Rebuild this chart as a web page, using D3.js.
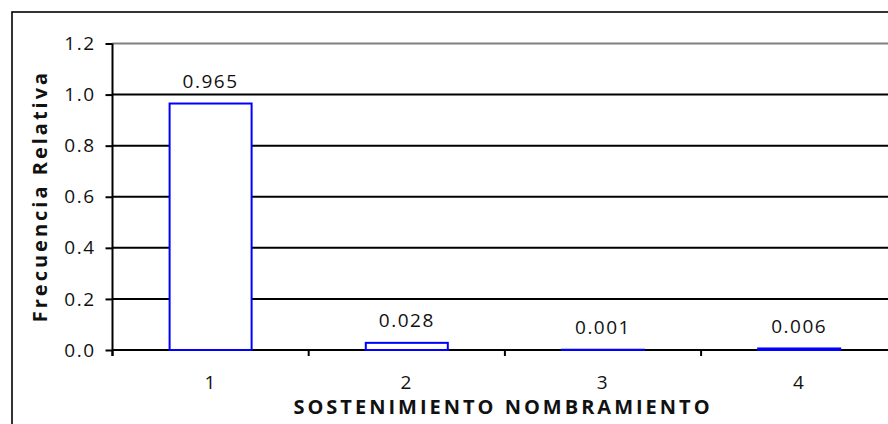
<!DOCTYPE html>
<html>
<head>
<meta charset="utf-8">
<script src="https://cdn.jsdelivr.net/npm/d3@7"></script>
<style>
  html, body { margin: 0; padding: 0; background: #fff; overflow: hidden; }
  text { font-family: "Open Sans", "DejaVu Sans", sans-serif; fill: #111; }
</style>
</head>
<body>
<svg id="chart" width="888" height="424"></svg>
<script>
const categories = ["1", "2", "3", "4"];
const values = [0.965, 0.028, 0.001, 0.006];
const valueLabels = ["0.965", "0.028", "0.001", "0.006"];
const yTicks = [0, 0.2, 0.4, 0.6, 0.8, 1.0, 1.2];
const xTitle = "SOSTENIMIENTO NOMBRAMIENTO";
const yTitle = "Frecuencia Relativa";

const svg = d3.select("#chart");
const W = 888, H = 424;
const pLeft = 112.5, pRight = 897.3, pTop = 43.5, pBottom = 350;
const numFont = "19px", numSpacing = "1.5px";
const titleFont = "20px", titleSpacing = "3px";

// outer chart border
svg.append("rect")
  .attr("x", 12).attr("y", 12)
  .attr("width", W + 20).attr("height", H + 20)
  .attr("fill", "#fff").attr("stroke", "#000").attr("stroke-width", 1.6);

const x = d3.scaleBand().domain(categories).range([pLeft, pRight]).padding(0);
const y = d3.scaleLinear().domain([0, 1.2]).range([pBottom, pTop]);

// gridlines
svg.append("g").selectAll("line")
  .data(yTicks.filter(d => d > 0))
  .join("line")
  .attr("x1", pLeft).attr("x2", pRight)
  .attr("y1", d => y(d)).attr("y2", d => y(d))
  .attr("stroke", d => d === 1.2 ? "#808080" : "#000")
  .attr("stroke-width", 2);

// y axis
const yAxis = d3.axisLeft(y).tickValues(yTicks).tickFormat(d3.format(".1f"))
  .tickSize(7).tickPadding(10);
const gy = svg.append("g").attr("transform", `translate(${pLeft},0)`).call(yAxis);
gy.select(".domain").attr("stroke", "#000").attr("stroke-width", 2)
  .attr("d", `M0,${pTop}V${pBottom + 6}`);
gy.selectAll(".tick line").attr("stroke", "#000").attr("stroke-width", 2);
gy.selectAll(".tick text")
  .style("font-family", "'Open Sans', 'DejaVu Sans', sans-serif")
  .style("font-size", numFont).style("letter-spacing", numSpacing).attr("fill", "#111");

// x axis
const xBoundaries = categories.map(c => x(c)).concat([x(categories[categories.length - 1]) + x.bandwidth()]);
svg.append("line")
  .attr("x1", pLeft).attr("x2", pRight + 5)
  .attr("y1", pBottom).attr("y2", pBottom)
  .attr("stroke", "#000").attr("stroke-width", 2);
svg.append("g").selectAll("line")
  .data(xBoundaries)
  .join("line")
  .attr("x1", d => d).attr("x2", d => d)
  .attr("y1", pBottom).attr("y2", pBottom + 6)
  .attr("stroke", "#000").attr("stroke-width", 2);
svg.append("g").selectAll("text")
  .data(categories)
  .join("text")
  .attr("x", d => x(d) + x.bandwidth() / 2)
  .attr("y", 389)
  .attr("text-anchor", "middle")
  .style("font-size", numFont).style("letter-spacing", numSpacing)
  .text(d => d);

// bars
const barW = x.bandwidth() * 0.418;
svg.append("g").selectAll("rect")
  .data(values)
  .join("rect")
  .attr("x", (d, i) => x(categories[i]) + x.bandwidth() / 2 - barW / 2)
  .attr("y", d => y(d))
  .attr("width", barW)
  .attr("height", d => pBottom - y(d))
  .attr("fill", "#fff")
  .attr("stroke", "#0000ff")
  .attr("stroke-width", 2);

// value labels
svg.append("g").selectAll("text")
  .data(values)
  .join("text")
  .attr("x", (d, i) => x(categories[i]) + x.bandwidth() / 2)
  .attr("y", d => y(d) - 15.5)
  .attr("text-anchor", "middle")
  .style("font-size", numFont).style("letter-spacing", numSpacing)
  .text((d, i) => valueLabels[i]);

// axis titles
svg.append("text")
  .attr("x", 503).attr("y", 414)
  .attr("text-anchor", "middle")
  .style("font-size", titleFont).style("font-weight", "bold").style("letter-spacing", titleSpacing)
  .text(xTitle);

svg.append("text")
  .attr("transform", "translate(47,196) rotate(-90)")
  .attr("text-anchor", "middle")
  .style("font-size", titleFont).style("font-weight", "bold").style("letter-spacing", titleSpacing)
  .text(yTitle);
</script>
</body>
</html>
